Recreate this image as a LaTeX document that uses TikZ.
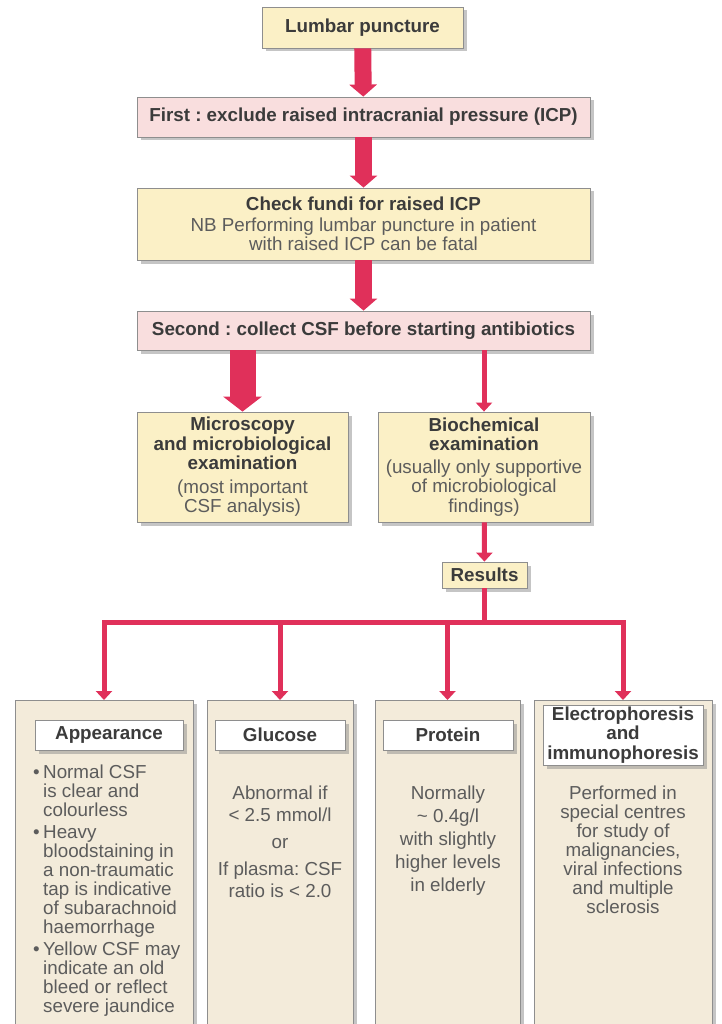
\documentclass[tikz,border=0pt]{standalone}
\usepackage{fontspec}
\setmainfont{Liberation Sans}
\usepackage{xcolor}
\usepackage{tikz}
\usetikzlibrary{arrows.meta,shadows}
\definecolor{pyellow}{HTML}{FBF0C6}
\definecolor{ppink}{HTML}{F9DEDE}
\definecolor{pbeige}{HTML}{F3EBDA}
\definecolor{pred}{HTML}{E0305A}
\definecolor{pline}{HTML}{8E8E8E}
\definecolor{pdark}{HTML}{3B3B3B}
\definecolor{pgrey}{HTML}{5C5C5C}
\newcommand{\hd}[1]{{\color{pdark}\bfseries#1}}
\newcommand{\bul}{\makebox[10pt][l]{\textbullet}}
\newcommand{\ind}{\hspace*{10pt}}
\frenchspacing

\begin{document}
\begin{tikzpicture}[x=1pt,y=-1pt,
    every node/.style={font=\fontsize{18.8pt}{19.5pt}\selectfont,text=pgrey},
    box/.style={draw=pline,line width=0.8pt,align=center,inner sep=0pt,
      drop shadow={shadow xshift=3.5pt,shadow yshift=-3.5pt,fill=black!45}},
    fat/.style={draw=pred,line width=17pt,-{Triangle[width=27pt,length=12pt]}},
    fatter/.style={draw=pred,line width=26pt,-{Triangle[width=38pt,length=15pt]}},
    link/.style={draw=pred,line width=5pt},
    thin/.style={link,-{Triangle[width=16pt,length=9pt]}}]
  \useasboundingbox (0,0) rectangle (721,1024);
  \clip (0,0) rectangle (721,1024);

  % upper chain
  \node[box,fill=pyellow,minimum width=201pt,minimum height=41pt] (lp) at (362.5,27.5) {\hd{Lumbar puncture}};
  \node[box,fill=ppink,minimum width=453pt,minimum height=40pt] (first) at (363.5,117) {\hd{First : exclude raised intracranial pressure (ICP)}};
  \node[box,fill=pyellow,minimum width=453pt,minimum height=72pt] (fundi) at (363.5,224) {\hd{Check fundi for raised ICP}\\[1pt]
    NB Performing lumbar puncture in patient\\ with raised ICP can be fatal};
  \node[box,fill=ppink,minimum width=453pt,minimum height=39pt] (second) at (363.5,330.5) {\hd{Second : collect CSF before starting antibiotics}};

  \node[box,fill=pyellow,minimum width=211pt,minimum height=110pt] (micro) at (242.5,467) {\hd{Microscopy}\\ \hd{and microbiological}\\ \hd{examination}\\[4pt]
    (most important\\ CSF analysis)};
  \node[box,fill=pyellow,minimum width=212pt,minimum height=110pt] (bio) at (484,467) {\hd{Biochemical}\\ \hd{examination}\\[3pt]
    (usually only supportive\\ of microbiological\\ findings)};
  \node[box,fill=pyellow,minimum width=85pt,minimum height=26pt] (results) at (484.5,575) {\hd{Results}};

  % result columns
  \node[box,fill=pbeige,minimum width=178pt,minimum height=340pt,anchor=north] (app) at (104,700) {};
  \node[box,fill=pbeige,minimum width=146pt,minimum height=340pt,anchor=north] (glu) at (280,700) {};
  \node[box,fill=pbeige,minimum width=145pt,minimum height=340pt,anchor=north] (pro) at (447.5,700) {};
  \node[box,fill=pbeige,minimum width=178pt,minimum height=340pt,anchor=north] (ele) at (623,700) {};

  \node[box,fill=white,minimum width=148pt,minimum height=30pt] (apphd) at (109,735) {\hd{Appearance}};
  \node[box,fill=white,minimum width=130pt,minimum height=30pt] (gluhd) at (280,735) {\hd{Glucose}};
  \node[box,fill=white,minimum width=130pt,minimum height=30pt] (prohd) at (448,735) {\hd{Protein}};
  \node[box,fill=white,minimum width=160pt,minimum height=60pt] (elehd) at (623,735) {\hd{Electrophoresis}\\ \hd{and}\\ \hd{immunophoresis}};

  \node[anchor=north west,align=left,inner sep=0pt,font=\fontsize{18.8pt}{19pt}\selectfont] (apptx) at (33,765) {\bul Normal CSF\\ \ind is clear and\\ \ind colourless\\[3pt]
    \bul Heavy\\ \ind bloodstaining in\\ \ind a non-traumatic\\ \ind tap is indicative\\ \ind of subarachnoid\\ \ind haemorrhage\\[3pt]
    \bul Yellow CSF may\\ \ind indicate an old\\ \ind bleed or reflect\\ \ind severe jaundice};
  \node[anchor=north,align=center,inner sep=0pt,font=\fontsize{18.8pt}{22pt}\selectfont] (glutx) at (280,786) {Abnormal if\\ < 2.5 mmol/l\\[5pt] or\\[5pt] If plasma: CSF\\ ratio is < 2.0};
  \node[anchor=north,align=center,inner sep=0pt,font=\fontsize{18.8pt}{23pt}\selectfont] (protx) at (448,786) {Normally\\ \textasciitilde\ 0.4g/l\\ with slightly\\ higher levels\\ in elderly};
  \node[anchor=north,align=center,inner sep=0pt,font=\fontsize{18.8pt}{19pt}\selectfont] (eletx) at (623,786) {Performed in\\ special centres\\ for study of\\ malignancies,\\ viral infections\\ and multiple\\ sclerosis};

  % connectors
  \draw[fat] (lp) -- (first);
  \draw[fat] (first) -- (fundi);
  \draw[fat] (fundi) -- (second);
  \draw[fatter] (micro.north |- second.south) -- (micro.north);
  \draw[thin] (bio.north |- second.south) -- (bio.north);
  \draw[thin] (bio) -- (results);
  \coordinate (bus) at (484.5,622);
  \draw[link] (results) -- (bus);
  \draw[link,line cap=rect] (app.north |- bus) -- (ele.north |- bus);
  \foreach \n in {app,glu,pro,ele}
    \draw[thin] (\n.north |- bus) -- (\n.north);
\end{tikzpicture}
\end{document}
